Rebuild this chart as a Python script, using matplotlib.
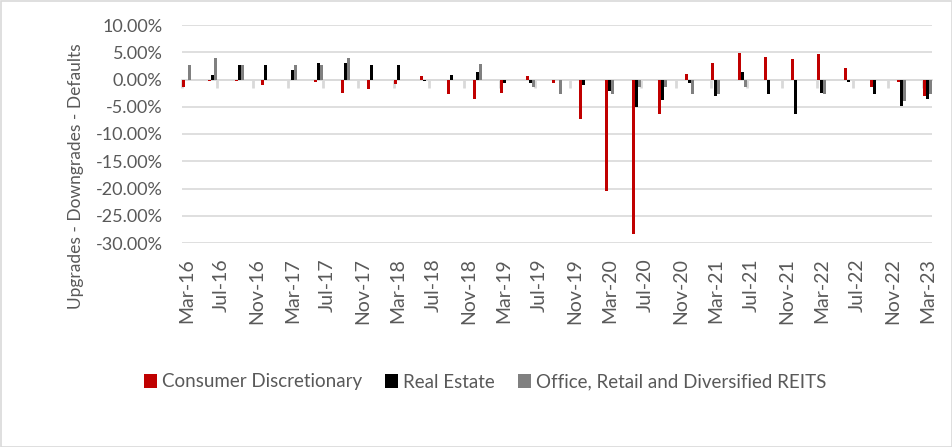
import matplotlib.pyplot as plt
import matplotlib.patches as patches
import numpy as np

plt.rcParams['font.family'] = ['Lato', 'DejaVu Sans']

# quarterly observations, Mar-16 .. Mar-23 (values in %)
quarters = ["Mar-16", "Jun-16", "Sep-16", "Dec-16", "Mar-17", "Jun-17", "Sep-17", "Dec-17",
            "Mar-18", "Jun-18", "Sep-18", "Dec-18", "Mar-19", "Jun-19", "Sep-19", "Dec-19",
            "Mar-20", "Jun-20", "Sep-20", "Dec-20", "Mar-21", "Jun-21", "Sep-21", "Dec-21",
            "Mar-22", "Jun-22", "Sep-22", "Dec-22", "Mar-23"]
consumer_disc = [-1.4, -0.3, -0.3, -1.1, 0.0, -0.5, -2.4, -1.8,
                 -0.9, 0.7, -2.6, -3.5, -2.4, 0.7, -0.7, -7.2,
                 -20.4, -28.3, -6.3, 1.1, 3.1, 4.8, 4.2, 3.7,
                 4.6, 2.2, -1.3, -0.5, -3.1]
real_estate = [0.0, 0.9, 2.7, 2.7, 1.8, 3.1, 3.1, 2.6,
               2.6, -0.3, 0.9, 1.3, -0.7, -0.7, 0.0, -1.1,
               -2.2, -5.0, -3.7, -0.7, -3.1, 1.3, -2.6, -6.4,
               -2.4, -0.4, -2.6, -4.8, -3.5]
reits = [2.7, 4.0, 2.7, 0.0, 2.7, 2.7, 3.9, 0.0,
         0.0, 0.0, 0.0, 2.8, 0.0, -1.3, -2.6, 0.0,
         -2.6, -1.3, -1.3, -2.6, -2.6, -1.3, 0.0, 0.0,
         -2.6, 0.0, 0.0, -3.9, -2.6]
tick_labels = ["Mar-16", "Jul-16", "Nov-16", "Mar-17", "Jul-17", "Nov-17", "Mar-18", "Jul-18",
               "Nov-18", "Mar-19", "Jul-19", "Nov-19", "Mar-20", "Jul-20", "Nov-20", "Mar-21",
               "Jul-21", "Nov-21", "Mar-22", "Jul-22", "Nov-22", "Mar-23"]

series = [("Consumer Discretionary", consumer_disc, "#C00000"),
          ("Real Estate", real_estate, "#000000"),
          ("Office, Retail and Diversified REITS", reits, "#808080")]

# date axis with monthly base unit: quarter q sits at month 3q
months = np.arange(len(quarters)) * 3
n_months = months[-1] + 1
w = 0.34
grey_txt = "#595959"

fig = plt.figure(figsize=(9.53, 4.47), dpi=100)
ax = fig.add_axes([182 / 953, 1 - 243 / 447, 750 / 953, 218 / 447])

for i, (name, vals, col) in enumerate(series):
    ax.bar(months + (i - 1) * w, vals, width=w, color=col, label=name, zorder=3)

ax.set_xlim(-0.5, n_months - 0.5)
ax.set_ylim(-30, 10)
ax.set_yticks(np.arange(-30, 11, 5))
ax.set_yticklabels(["%.2f%%" % v for v in np.arange(-30, 11, 5)])
ax.yaxis.grid(True, color="#d9d9d9", linewidth=1.2, zorder=0)
ax.tick_params(axis="y", length=0, pad=14, labelsize=13, labelcolor=grey_txt)

for s in ["top", "right", "left"]:
    ax.spines[s].set_visible(False)
ax.spines["bottom"].set_position(("data", 0))
ax.spines["bottom"].set_color("#d9d9d9")
ax.spines["bottom"].set_linewidth(1.2)
ax.set_xticks(np.arange(0, n_months + 1, 4) - 0.5)
ax.tick_params(axis="x", direction="out", length=6, width=2, color="#d9d9d9", labelbottom=False)

sec = ax.secondary_xaxis("bottom")
sec.set_xticks(np.arange(0, n_months, 4))
sec.set_xticklabels(tick_labels, rotation=90)
sec.tick_params(length=0, pad=11, labelsize=14, labelcolor=grey_txt)
sec.spines["bottom"].set_visible(False)

fig.text(76 / 953, 1 - 176 / 447, "Upgrades - Downgrades - Defaults", rotation=90,
         ha="center", va="center", fontsize=12.5, color=grey_txt)

ax.legend(loc="center", bbox_to_anchor=(485 / 953, 1 - 382 / 447), bbox_transform=fig.transFigure,
          ncol=3, frameon=False, fontsize=13.5, handlelength=0.7, handleheight=0.7,
          handletextpad=0.25, columnspacing=1.25, labelcolor=grey_txt)

fig.patches.append(patches.Rectangle((0.5 / 953, 0.5 / 447), 1 - 1.5 / 953, 1 - 1.5 / 447,
                                     transform=fig.transFigure, fill=False,
                                     edgecolor="#d9d9d9", linewidth=1.2))

fig.savefig("out.png", dpi=100)
